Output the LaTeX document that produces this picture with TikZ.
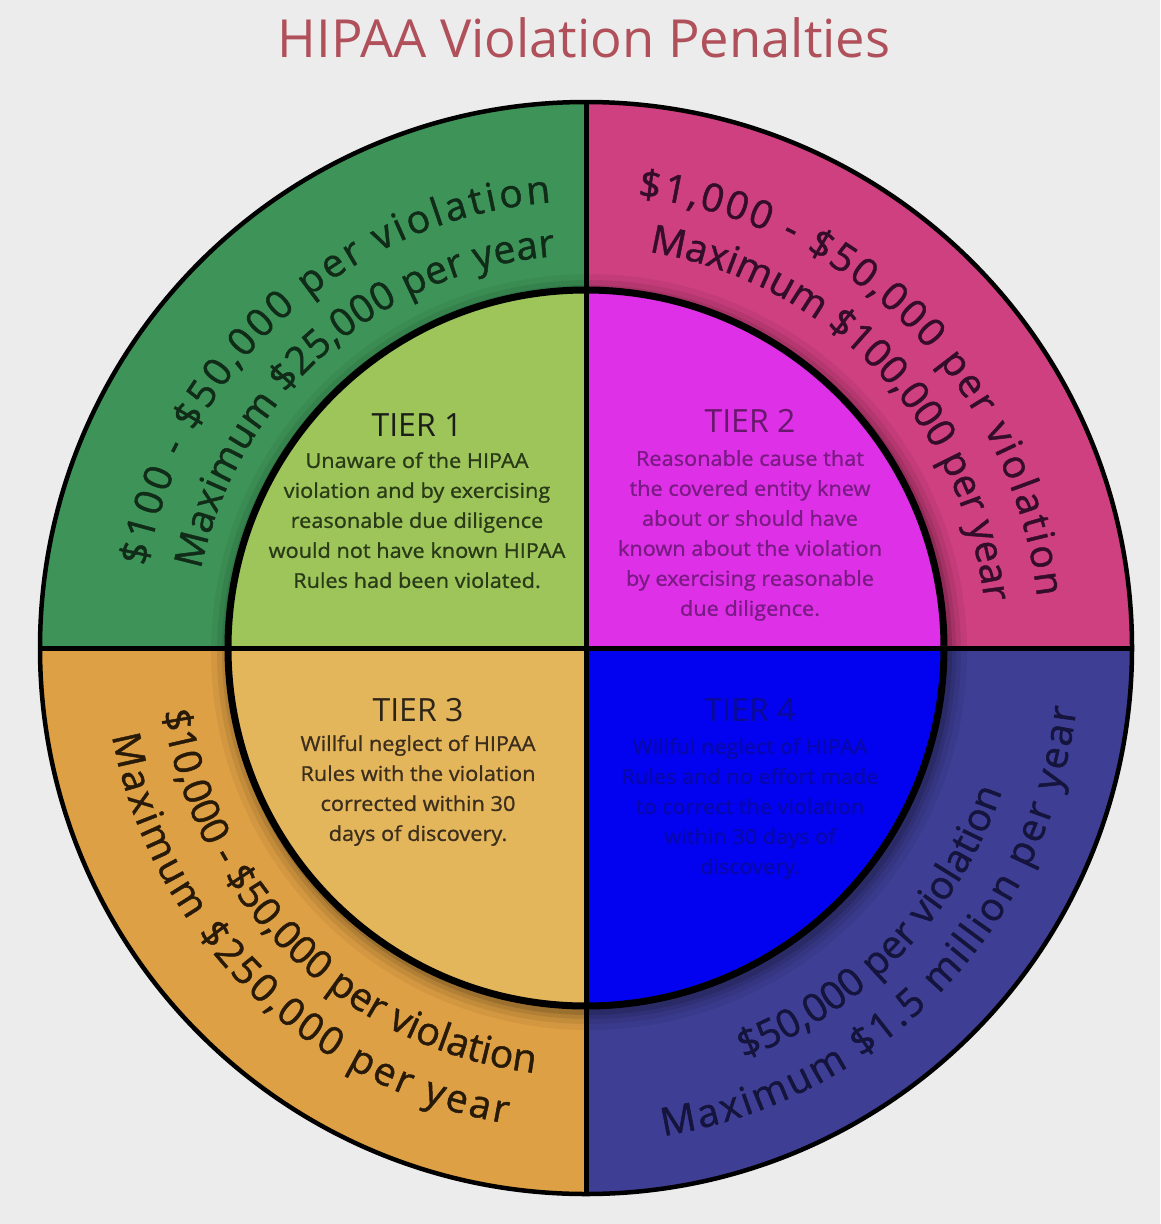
\documentclass[tikz,border=0pt]{standalone}
\usepackage{fontspec}
\setmainfont{Open Sans}
\newfontfamily\hpArcFam[FakeBold=1.2]{Open Sans}
\newfontfamily\hpBodyFam[FakeBold=1.0,FakeStretch=1.06]{Open Sans}
\usetikzlibrary{decorations.text}
\definecolor{bgc}{RGB}{236,236,236}
\definecolor{titlec}{RGB}{176,80,90}
\definecolor{tlout}{RGB}{62,148,88}
\definecolor{tlin}{RGB}{157,197,90}
\definecolor{trout}{RGB}{206,64,128}
\definecolor{trin}{RGB}{222,48,230}
\definecolor{blout}{RGB}{222,160,68}
\definecolor{blin}{RGB}{228,182,92}
\definecolor{brout}{RGB}{62,62,148}
\definecolor{brin}{RGB}{2,2,240}
\definecolor{tlarc}{RGB}{16,44,24}
\definecolor{trarc}{RGB}{52,14,40}
\definecolor{blarc}{RGB}{40,26,8}
\definecolor{brarc}{RGB}{20,20,60}
\definecolor{tlhead}{RGB}{28,30,24}
\definecolor{tlbody}{RGB}{42,58,24}
\definecolor{trhead}{RGB}{104,24,108}
\definecolor{trbody}{RGB}{122,26,132}
\definecolor{blhead}{RGB}{44,36,24}
\definecolor{blbody}{RGB}{60,46,28}
\definecolor{brhead}{RGB}{10,10,150}
\definecolor{brbody}{RGB}{8,8,170}
\newcommand\hpArcFont{\hpArcFam\fontsize{39pt}{39pt}\selectfont}
\tikzset{
  tierhead/.style={font=\fontsize{32pt}{32pt}\selectfont, inner sep=0pt, anchor=base},
  tierbody/.style={font=\hpBodyFam\fontsize{20.5pt}{30pt}\selectfont, inner sep=0pt, anchor=north, align=center},
  divline/.style={line width=5pt, black},
}
\begin{document}
\begin{tikzpicture}[x=1pt,y=1pt]
\useasboundingbox (0,0) rectangle (1160,-1224);
\fill[bgc] (0,0) rectangle (1160,-1224);
\node[font=\fontsize{52.5pt}{52.5pt}\selectfont, text=titlec, anchor=base, inner sep=0pt] (title) at (584,-57) {HIPAA Violation Penalties};
\coordinate (c) at (586,-648);
% outer sectors
\fill[tlout] (c) -- +(180:546pt) arc[start angle=180, end angle=90, radius=546pt] -- cycle;
\fill[trout] (c) -- +(90:546pt) arc[start angle=90, end angle=0, radius=546pt] -- cycle;
\fill[brout] (c) -- +(0:546pt) arc[start angle=360, end angle=270, radius=546pt] -- cycle;
\fill[blout] (c) -- +(270:546pt) arc[start angle=270, end angle=180, radius=546pt] -- cycle;
% soft shadow of the inner disc
\foreach \r/\o in {378/0.05,372/0.07,367/0.09,363/0.12}{
  \fill[black, opacity=\o] ([shift={(3pt,-4pt)}]c) circle[radius=\r pt];
}
% inner sectors
\fill[tlin] (c) -- +(180:358pt) arc[start angle=180, end angle=90, radius=358pt] -- cycle;
\fill[trin] (c) -- +(90:358pt) arc[start angle=90, end angle=0, radius=358pt] -- cycle;
\fill[brin] (c) -- +(0:358pt) arc[start angle=360, end angle=270, radius=358pt] -- cycle;
\fill[blin] (c) -- +(270:358pt) arc[start angle=270, end angle=180, radius=358pt] -- cycle;
% outlines
\draw[divline] (c) +(-546pt,0) -- +(546pt,0);
\draw[divline] (c) +(0,-546pt) -- +(0,546pt);
\draw[line width=7pt] (c) circle[radius=358pt];
\draw[line width=4.5pt] (c) circle[radius=546pt];
% arc texts
\begin{scope}[shift={(586,-648)}]
\path[decorate, decoration={text along path, text align={fit to path}, text color=tlarc,
  text={|\hpArcFont|{\$}100 - {\$}50,000 per violation}}]
  (169.5:447pt) arc[start angle=169.5, end angle=94.5, radius=447pt];
\path[decorate, decoration={text along path, text align={fit to path}, text color=tlarc,
  text={|\hpArcFont|Maximum {\$}25,000 per year}}]
  (168.5:393pt) arc[start angle=168.5, end angle=94.5, radius=393pt];
\path[decorate, decoration={text along path, text align={fit to path}, text color=trarc,
  text={|\hpArcFont|{\$}1,000 - {\$}50,000 per violation}}]
  (83.5:454pt) arc[start angle=83.5, end angle=6.5, radius=454pt];
\path[decorate, decoration={text along path, text align={fit to path}, text color=trarc,
  text={|\hpArcFont|Maximum {\$}100,000 per year}}]
  (81:401pt) arc[start angle=81, end angle=7, radius=401pt];
\path[decorate, decoration={text along path, text align={fit to path}, text color=blarc,
  text={|\hpArcFont|{\$}10,000 - {\$}50,000 per violation}}]
  (188.5:428pt) arc[start angle=188.5, end angle=262.5, radius=428pt];
\path[decorate, decoration={text along path, text align={fit to path}, text color=blarc,
  text={|\hpArcFont|Maximum {\$}250,000 per year}}]
  (190.5:482pt) arc[start angle=190.5, end angle=260.5, radius=482pt];
\path[decorate, decoration={text along path, text align={fit to path}, text color=brarc,
  text={|\hpArcFont|{\$}50,000 per violation}}]
  (291:440pt) arc[start angle=291, end angle=341, radius=440pt];
\path[decorate, decoration={text along path, text align={fit to path}, text color=brarc,
  text={|\hpArcFont|Maximum {\$}1.5 million per year}}]
  (279:494pt) arc[start angle=279, end angle=353, radius=494pt];
\end{scope}
% tier texts
\node[tierhead, text=tlhead] (t1h) at (417,-436) {TIER 1};
\node[tierbody, text=tlbody] (t1b) at (417,-452) {Unaware of the HIPAA\\violation and by exercising\\reasonable due diligence\\would not have known HIPAA\\Rules had been violated.};
\node[tierhead, text=trhead] (t2h) at (750,-432) {TIER 2};
\node[tierbody, text=trbody] (t2b) at (750,-450) {Reasonable cause that\\the covered entity knew\\about or should have\\known about the violation\\by exercising reasonable\\due diligence.};
\node[tierhead, text=blhead] (t3h) at (418,-721) {TIER 3};
\node[tierbody, text=blbody] (t3b) at (418,-735) {Willful neglect of HIPAA\\Rules with the violation\\corrected within 30\\days of discovery.};
\node[tierhead, text=brhead] (t4h) at (750,-721) {TIER 4};
\node[tierbody, text=brbody] (t4b) at (750,-738) {Willful neglect of HIPAA\\Rules and no effort made\\to correct the violation\\within 30 days of\\discovery.};
\end{tikzpicture}
\end{document}
